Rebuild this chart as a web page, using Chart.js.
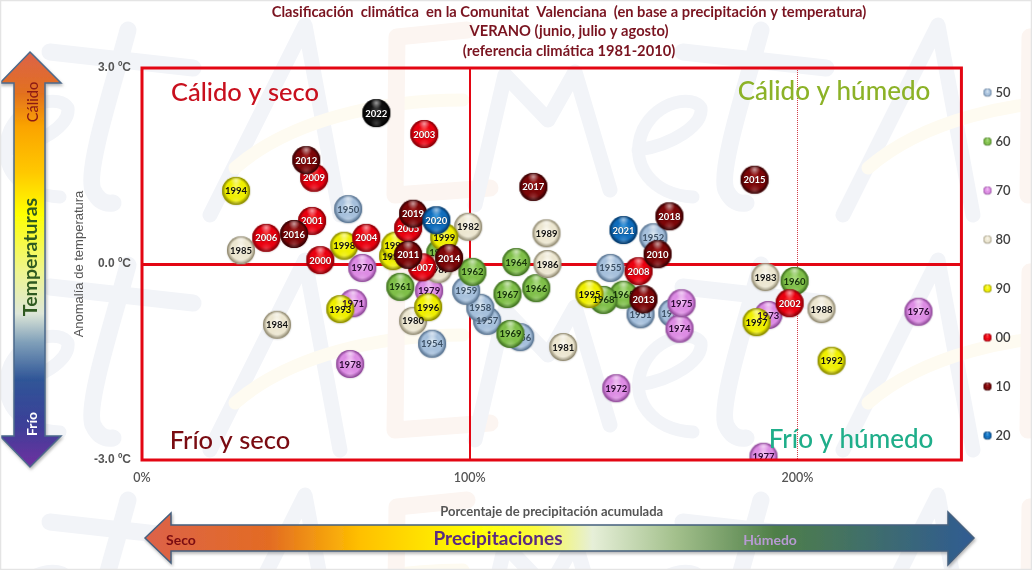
<!DOCTYPE html>
<html lang="es">
<head>
<meta charset="utf-8">
<title>Clasificación climática</title>
<script src="https://cdn.jsdelivr.net/npm/chart.js@4/dist/chart.umd.min.js"></script>
<style>
html,body{margin:0;padding:0;background:#fff;overflow:hidden}
#wrap{position:relative;width:1032px;height:570px;overflow:hidden}
#bg{position:absolute;left:0;top:0}
#c{position:absolute;left:0;top:0}
</style>
</head>
<body>
<div id="wrap">
<svg id="bg" width="1032" height="570" viewBox="0 0 1032 570">
  <defs>
    <g id="tile" fill="none" stroke-linecap="round" stroke-linejoin="round">
      <path d="M128,30 C115,80 85,170 93,190 Q100,205 113,203" stroke="#f2f4f8" stroke-width="17"/>
      <path d="M50,52 L193,68" stroke="#f2f4f8" stroke-width="17"/>
      <path d="M5,150 C40,145 70,125 68,108 C60,95 25,100 10,130 C-5,165 20,195 60,197" stroke="#f2f4f8" stroke-width="13"/>
      <path d="M210,215 L305,25 L340,215" stroke="#f2f4f8" stroke-width="15"/>
      <path d="M235,168 C290,120 380,100 463,100" stroke="#fefbf1" stroke-width="13"/>
      <path d="M467,30 L397,37 L395,195 L490,188" stroke="#fcf5f1" stroke-width="17"/>
      <path d="M475,205 L505,75 L548,120 L575,72 L610,190" stroke="#f2f4f8" stroke-width="15"/>
    </g>
    <linearGradient id="gv" x1="0" y1="0" x2="0" y2="1">
      <stop offset="0" stop-color="#dc6249"/>
      <stop offset="0.1" stop-color="#e2711f"/>
      <stop offset="0.18" stop-color="#fba400"/>
      <stop offset="0.29" stop-color="#ffc800"/>
      <stop offset="0.39" stop-color="#ffff00"/>
      <stop offset="0.53" stop-color="#eef590"/>
      <stop offset="0.63" stop-color="#dde6d8"/>
      <stop offset="0.70" stop-color="#7f9fb9"/>
      <stop offset="0.79" stop-color="#2f5597"/>
      <stop offset="0.90" stop-color="#3c3f98"/>
      <stop offset="1" stop-color="#7030a0"/>
    </linearGradient>
    <linearGradient id="gh" x1="0" y1="0" x2="1" y2="0">
      <stop offset="0" stop-color="#dc6249"/>
      <stop offset="0.15" stop-color="#e36c23"/>
      <stop offset="0.26" stop-color="#ffc000"/>
      <stop offset="0.40" stop-color="#ffff00"/>
      <stop offset="0.47" stop-color="#fbfb40"/>
      <stop offset="0.54" stop-color="#e6efd8"/>
      <stop offset="0.64" stop-color="#a3c08c"/>
      <stop offset="0.76" stop-color="#4f7f48"/>
      <stop offset="1" stop-color="#2f5b92"/>
    </linearGradient>
    <filter id="sh" x="-10%" y="-10%" width="120%" height="120%">
      <feDropShadow dx="1" dy="2" stdDeviation="1.5" flood-color="#777" flood-opacity="0.55"/>
    </filter>
  </defs>
  <use href="#tile" x="0" y="0"/><use href="#tile" x="633" y="0"/>
  <use href="#tile" x="0" y="235"/><use href="#tile" x="633" y="235"/>
  <use href="#tile" x="0" y="470"/><use href="#tile" x="633" y="470"/>
  <polygon points="30,52 61,83 45,83 45,436 61,436 30,467 0,436 14,436 14,83 0,83" fill="url(#gv)" stroke="#4b6a8c" stroke-width="1.5" filter="url(#sh)"/>
  <polygon points="145,538 171,513 171,525 948,525 948,512 974,538 948,565 948,551 171,551 171,563" fill="url(#gh)" stroke="#44607f" stroke-width="1.5" filter="url(#sh)"/>
  <rect x="0.5" y="0.5" width="1031" height="569" fill="none" stroke="#e4e4e4" stroke-width="1.5"/>
</svg>
<canvas id="c" width="1032" height="570"></canvas>
</div>
<script>
// Data: x = % of accumulated precipitation, y = temperature anomaly (ºC)
const years50 = [1950,1951,1952,1953,1954,1955,1956,1957,1958,1959];
const precip50 = [62.9,152.1,156.0,161.8,88.5,142.9,115.4,105.3,103.2,98.9];
const temp50 = [0.84,-0.77,0.41,-0.75,-1.22,-0.06,-1.12,-0.87,-0.67,-0.41];

const years60 = [1960,1961,1962,1963,1964,1965,1966,1967,1968,1969];
const precip60 = [199.1,78.8,100.8,91.0,114.2,146.9,120.3,111.5,140.8,112.4];
const temp60 = [-0.26,-0.35,-0.12,0.17,0.03,-0.47,-0.37,-0.46,-0.55,-1.07];

const years70 = [1970,1971,1972,1973,1974,1975,1976,1977,1978,1979];
const precip70 = [67.2,64.4,144.7,191.1,164.0,164.6,236.9,189.6,63.5,87.6];
const temp70 = [-0.06,-0.60,-1.90,-0.78,-0.99,-0.60,-0.73,-2.95,-1.53,-0.41];

const years80 = [1980,1981,1982,1983,1984,1985,1986,1987,1988,1989];
const precip80 = [82.7,128.5,99.5,190.2,41.2,30.2,123.7,90.4,207.3,123.4];
const temp80 = [-0.87,-1.27,0.57,-0.20,-0.93,0.21,0.00,-0.08,-0.69,0.47];

const years90 = [1990,1991,1992,1993,1994,1995,1996,1997,1998,1999];
const precip90 = [76.6,77.3,210.4,60.5,28.7,136.5,87.3,187.5,61.7,92.2];
const temp90 = [0.12,0.28,-1.48,-0.69,1.12,-0.46,-0.66,-0.89,0.28,0.41];

const years00 = [2000,2001,2002,2003,2004,2005,2006,2007,2008,2009];
const precip00 = [54.4,51.9,197.6,86.1,68.4,81.2,37.9,85.5,151.5,52.5];
const temp00 = [0.06,0.66,-0.60,1.99,0.40,0.55,0.40,-0.05,-0.11,1.32];

const years10 = [2010,2011,2012,2013,2014,2015,2016,2017,2018,2019];
const precip10 = [157.3,81.2,50.1,153.0,93.7,186.9,46.4,119.4,160.9,82.7];
const temp10 = [0.15,0.14,1.59,-0.54,0.09,1.29,0.46,1.18,0.73,0.77];

const years20 = [2020,2021];
const precip20 = [89.8,146.9];
const temp20 = [0.67,0.52];

const years22 = [2022];
const precip22 = [71.5];
const temp22 = [2.31];

const xTickValues = [0,100,200];
const yTickValues = [-3,0,3];

const titleLines = [
  'Clasificación  climática  en la Comunitat  Valenciana  (en base a precipitación y temperatura)',
  'VERANO (junio, julio y agosto)',
  '(referencia climática 1981-2010)'
];

function sphere(color, dark, light, r, pad){
  const s = (r+pad)*2, cv = document.createElement('canvas');
  cv.width = s; cv.height = s;
  const g = cv.getContext('2d'), c = r+pad;
  g.save();
  g.shadowColor='rgba(0,0,0,.18)'; g.shadowBlur=pad; g.shadowOffsetY=pad*0.3;
  g.beginPath(); g.arc(c,c,r,0,Math.PI*2); g.fillStyle=color; g.fill();
  g.restore();
  let rg = g.createRadialGradient(c,c-r*0.2,r*0.1,c,c,r);
  rg.addColorStop(0,light); rg.addColorStop(0.42,color); rg.addColorStop(0.72,color); rg.addColorStop(0.97,dark); rg.addColorStop(1,dark);
  g.beginPath(); g.arc(c,c,r,0,Math.PI*2); g.fillStyle=rg; g.fill();
  // top highlight
  let hg = g.createRadialGradient(c,c-r*0.72,0,c,c-r*0.72,r*0.4);
  hg.addColorStop(0,'rgba(255,255,255,.6)'); hg.addColorStop(1,'rgba(255,255,255,0)');
  g.beginPath(); g.arc(c,c,r*0.96,0,Math.PI*2); g.fillStyle=hg; g.fill();
  // bottom reflection
  let bg = g.createRadialGradient(c,c+r*0.74,0,c,c+r*0.74,r*0.42);
  bg.addColorStop(0,'rgba(255,255,255,.2)'); bg.addColorStop(1,'rgba(255,255,255,0)');
  g.beginPath(); g.arc(c,c,r*0.96,0,Math.PI*2); g.fillStyle=bg; g.fill();
  return cv;
}

const series = [
  {name:'50', years:years50, x:precip50, y:temp50, color:'#a6c0dc', dark:'#56718e', light:'#d8e6f2', text:'#3d5166'},
  {name:'60', years:years60, x:precip60, y:temp60, color:'#7fbf49', dark:'#3f7020', light:'#a9dc7e', text:'#16330a'},
  {name:'70', years:years70, x:precip70, y:temp70, color:'#dd8ce4', dark:'#8c4796', light:'#f2c0f4', text:'#2b0a33'},
  {name:'80', years:years80, x:precip80, y:temp80, color:'#ece6d0', dark:'#8f8870', light:'#fbf8ee', text:'#111111'},
  {name:'90', years:years90, x:precip90, y:temp90, color:'#efef00', dark:'#858500', light:'#ffff50', text:'#111111'},
  {name:'00', years:years00, x:precip00, y:temp00, color:'#ea0010', dark:'#850007', light:'#ff3a3a', text:'#ffffff'},
  {name:'10', years:years10, x:precip10, y:temp10, color:'#7c0608', dark:'#340103', light:'#a52020', text:'#ffffff'},
  {name:'20', years:years20, x:precip20, y:temp20, color:'#0f6dbd', dark:'#053766', light:'#3a9ae0', text:'#ffffff'},
  {name:'22', years:years22, x:precip22, y:temp22, color:'#0e0e0e', dark:'#000000', light:'#3a3a3a', text:'#ffffff', hidden:true}
];

const datasets = series.map((s,i)=>({
  label:s.name,
  data:s.x.map((v,k)=>({x:v,y:s.y[k]})),
  years:s.years,
  textColor:s.text,
  backgroundColor:s.color,
  borderColor:s.dark,
  pointStyle:sphere(s.color,s.dark,s.light,14,2),
  legendStyle:sphere(s.color,s.dark,s.light,4,1),
  pointRadius:14,
  pointHoverRadius:14,
  order:series.length-i,
  clip:0
}));

const labelFont = '700 9.5px Lato';
function drawYearLabels(chart, index){
  const ds = chart.data.datasets[index], meta = chart.getDatasetMeta(index), ctx = chart.ctx;
  ctx.save();
  ctx.font = labelFont; ctx.textAlign='center'; ctx.textBaseline='middle';
  ctx.fillStyle = ds.textColor;
  if (ds.textColor==='#ffffff'){ ctx.shadowColor='rgba(0,0,0,.7)'; ctx.shadowBlur=1.5; }
  meta.data.forEach((p,k)=>ctx.fillText(String(ds.years[k]),p.x,p.y+0.5));
  ctx.restore();
}

const yearLabelPlugin = {
  id:'yearLabels',
  afterDatasetDraw(chart,args){
    const i = args.index;
    if (i===0) drawYearLabels(chart,0);
    else if (i===4){ for(let k=1;k<=4;k++) drawYearLabels(chart,k); }
    else if (i>4) drawYearLabels(chart,i);
  }
};

const framePlugin = {
  id:'frame',
  afterLayout(chart){
    const lg = chart.legend;
    lg.left = 950; lg.right = lg.left+lg.width;
    lg.top -= 30; lg.bottom -= 30;
  },
  afterDatasetsDraw(chart){
    const a = chart.chartArea, c = chart.ctx;
    c.save(); c.strokeStyle='#e30613'; c.lineWidth=3;
    c.strokeRect(a.left,a.top,a.right-a.left,a.bottom-a.top);
    c.restore();
  }
};

const texts = [
  {t:titleLines[0],x:569,y:12,f:'700 14.7px Lato',c:'#7a1420'},
  {t:titleLines[1],x:569,y:31,f:'700 14.7px Lato',c:'#7a1420'},
  {t:titleLines[2],x:569,y:51,f:'700 14.7px Lato',c:'#7a1420'},
  {t:'Cálido y seco',x:245,y:93,f:'500 25.5px Lato',c:'#c8101e'},
  {t:'Cálido y húmedo',x:834,y:92,f:'500 26px Lato',c:'#8cb227'},
  {t:'Frío y seco',x:230,y:441,f:'500 25.5px Lato',c:'#7a0c12'},
  {t:'Frío y húmedo',x:851,y:440,f:'500 26px Lato',c:'#1fae8a'},
  {t:'Seco',x:181,y:540,f:'700 14px Lato',c:'#7a0c12'},
  {t:'Precipitaciones',x:498,y:539,f:'700 19px Lato',c:'#5a2a80'},
  {t:'Húmedo',x:770,y:540,f:'700 14px Lato',c:'#b79ad2'},
  {t:'Temperaturas',x:31,y:257,f:'700 19.5px Lato',c:'#2f5a20',r:-90},
  {t:'Cálido',x:33,y:102,f:'500 14.5px Lato',c:'#8c1a14',r:-90},
  {t:'Frío',x:32,y:424,f:'700 14px Lato',c:'#ffffff',r:-90}
];
const textPlugin = {
  id:'textOverlay',
  afterDraw(chart){
    const c = chart.ctx;
    texts.forEach(o=>{
      c.save(); c.translate(o.x,o.y);
      if(o.r) c.rotate(o.r*Math.PI/180);
      c.font=o.f; c.fillStyle=o.c; c.textAlign='center'; c.textBaseline='middle';
      c.fillText(o.t,0,0); c.restore();
    });
  }
};

new Chart(document.getElementById('c'),{
  type:'scatter',
  data:{datasets},
  plugins:[yearLabelPlugin,framePlugin,textPlugin],
  options:{
    responsive:false,
    animation:false,
    devicePixelRatio:1,
    layout:{padding:{left:72,top:68,right:0,bottom:50}},
    plugins:{
      tooltip:{enabled:false},
      title:{display:false},
      legend:{
        position:'right',
        labels:{
          usePointStyle:true,
          boxWidth:3,
          padding:36,
          color:'#404040',
          font:{family:'Lato',size:13,weight:'600'},
          filter:(item)=>item.text!=='22',
          generateLabels(chart){
            return chart.data.datasets.map((d,i)=>({
              text:d.label,fillStyle:d.backgroundColor,strokeStyle:d.backgroundColor,
              pointStyle:d.legendStyle,datasetIndex:i,hidden:false,lineWidth:0,fontColor:'#404040'
            }));
          }
        }
      }
    },
    scales:{
      x:{
        type:'linear',min:0,max:250,
        afterBuildTicks(s){ s.ticks = xTickValues.map(v=>({value:v})); },
        afterFit(s){ s.height = 60; },
        grid:{
          drawTicks:false,
          color:ctx=>ctx.tick&&ctx.tick.value===100?'#e30613':(ctx.tick&&ctx.tick.value===200?'#d0404a':'rgba(0,0,0,0)'),
          lineWidth:ctx=>ctx.tick&&ctx.tick.value===100?2:1
        },
        border:{display:false,dash:ctx=>ctx.tick&&ctx.tick.value===200?[1,1]:[]},
        ticks:{padding:10,color:'#555',font:{family:'Lato',size:12.5,weight:'600'},maxRotation:0,callback:v=>v+'%'},
        title:{display:true,text:'Porcentaje de precipitación acumulada',color:'#555',font:{family:'Lato',size:13,weight:'700'},padding:{top:5,bottom:0}}
      },
      y:{
        type:'linear',min:-3,max:3,
        afterBuildTicks(s){ s.ticks = yTickValues.map(v=>({value:v})); },
        afterFit(s){ s.width = 70; },
        grid:{
          drawTicks:false,
          color:ctx=>ctx.tick&&ctx.tick.value===0?'#e30613':'rgba(0,0,0,0)',
          lineWidth:ctx=>ctx.tick&&ctx.tick.value===0?3:1
        },
        border:{display:false},
        ticks:{padding:11,color:'#555',font:{family:'Liberation Sans',size:12,weight:'700'},callback:v=>Number(v).toFixed(1)+' ºC'},
        title:{display:true,text:'Anomalía de temperatura',color:'#555',font:{family:'Liberation Sans',size:13},padding:{top:0,bottom:0}}
      }
    }
  }
});
</script>
</body>
</html>
